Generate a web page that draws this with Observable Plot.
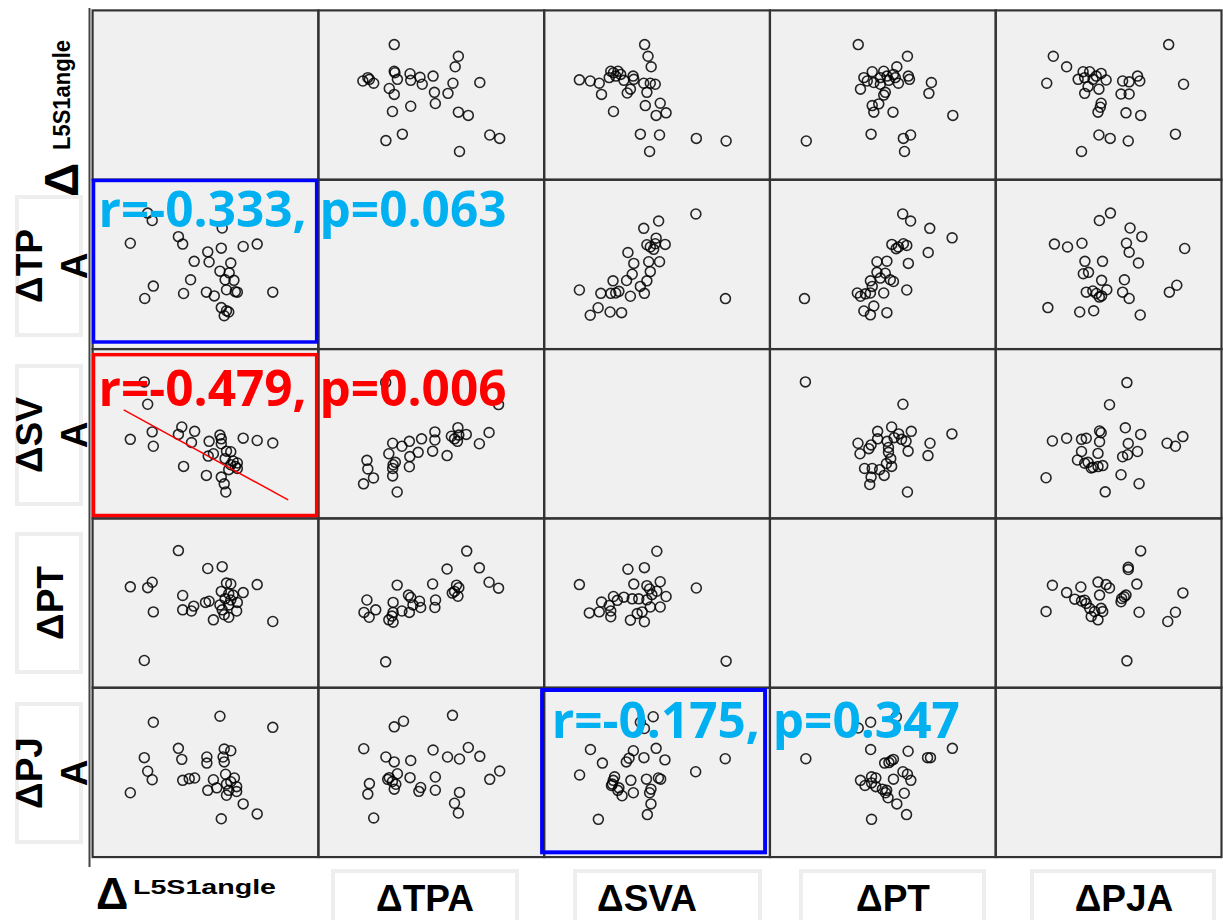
<!DOCTYPE html>
<html>
<head>
<meta charset="utf-8">
<script src="https://cdn.jsdelivr.net/npm/d3@7"></script>
<script src="https://cdn.jsdelivr.net/npm/@observablehq/plot@0.6"></script>
<style>
html, body { margin: 0; padding: 0; background: #fff; overflow: hidden; width: 1223px; height: 920px; }
#wrap { position: relative; width: 1223px; height: 920px; overflow: hidden; }
#wrap svg { position: absolute; left: 0; top: 0; }
</style>
</head>
<body>
<div id="wrap"></div>
<script>
// ---- variables of the scatter-plot matrix (relative change, scaled 0–100 within each panel) ----
const VARS = ["L5S1angle", "TPA", "SVA", "PT", "PJA"];
const ROW_LABELS = [["Δ", "L5S1angle"], ["ΔTP", "A"], ["ΔSV", "A"], ["ΔPT"], ["ΔPJ", "A"]];
const COL_LABELS = [["Δ", "L5S1angle"], ["ΔTPA"], ["ΔSVA"], ["ΔPT"], ["ΔPJA"]];

// each pair: [value of first variable, value of second variable]
const L5S1_TPA = [[79.8,33.6],[72.9,62.0],[66.7,60.6],[58.3,19.7],[60.3,21.9],[59.3,22.6],[57.0,24.5],[64.1,33.6],[63.2,33.9],[59.3,35.0],[62.6,40.6],[58.7,40.9],[60.5,45.0],[56.4,46.0],[61.2,50.8],[57.0,59.6],[57.4,71.5],[53.9,31.4],[50.4,33.6],[51.6,51.4],[51.0,57.4],[45.0,51.8],[43.4,40.9],[40.3,32.8],[39.9,62.0],[38.0,66.4],[26.9,37.2],[23.1,29.9],[26.4,75.9],[24.4,80.3],[16.7,62.5]];
const L5S1_SVA = [[79.8,44.5],[72.9,46.0],[66.7,47.4],[59.0,15.6],[58.3,20.4],[57.0,24.4],[64.1,29.5],[63.2,30.7],[64.1,32.7],[62.2,33.9],[60.3,28.8],[61.2,31.7],[58.7,35.3],[61.2,39.4],[59.3,39.7],[57.0,44.1],[57.0,47.0],[56.4,49.2],[53.5,38.2],[51.2,36.8],[50.4,25.4],[51.6,45.5],[43.8,44.8],[45.2,51.4],[38.0,49.6],[39.5,54.0],[40.3,30.7],[26.9,42.6],[26.4,51.1],[24.4,67.4],[22.9,80.6],[16.7,46.7]];
const L5S1_PT = [[79.8,39.1],[72.9,60.9],[66.7,56.2],[63.8,45.3],[60.3,41.6],[58.3,43.1],[57.4,46.0],[64.1,50.4],[61.2,51.8],[58.7,52.6],[62.2,54.7],[57.0,56.9],[61.2,61.3],[59.3,61.8],[60.3,48.9],[56.4,48.9],[60.3,55.5],[53.5,40.1],[51.6,51.1],[50.0,50.4],[57.4,71.5],[51.0,70.4],[44.8,48.2],[43.8,45.3],[39.9,46.0],[39.9,54.5],[38.0,81.0],[26.9,44.8],[26.4,62.3],[24.4,59.1],[22.9,16.1],[16.7,59.6]];
const L5S1_PJA = [[79.8,76.6],[72.9,25.5],[66.7,31.4],[57.0,22.6],[59.3,36.5],[63.8,38.7],[63.8,41.6],[60.3,39.4],[59.3,43.1],[62.8,46.7],[58.9,48.9],[61.2,44.5],[55.0,40.9],[53.5,45.7],[51.0,39.4],[58.3,56.2],[57.8,59.1],[61.2,62.8],[58.3,63.8],[50.6,55.5],[50.6,59.1],[56.4,83.2],[45.2,46.7],[42.8,46.3],[39.9,45.3],[39.5,57.7],[38.0,64.2],[26.4,45.7],[24.4,50.7],[22.9,58.7],[26.9,79.6],[16.7,38.0]];
const TPA_SVA = [[79.8,67.2],[75.6,50.7],[71.3,44.1],[65.5,49.6],[61.6,45.5],[60.3,47.0],[58.9,48.5],[62.2,49.2],[61.8,53.6],[57.0,37.1],[50.6,39.7],[51.6,46.3],[51.6,51.1],[45.7,47.0],[44.2,39.0],[40.5,36.5],[40.3,30.5],[40.3,45.5],[37.0,42.6],[34.9,15.6],[32.9,25.1],[32.9,29.5],[33.1,31.7],[34.1,33.1],[31.2,38.2],[32.9,44.4],[29.8,80.3],[24.4,23.9],[20.0,20.4],[21.9,29.2],[21.5,34.3]];
const TPA_PT = [[79.8,58.8],[75.6,62.3],[71.3,70.8],[65.7,80.7],[61.8,54.0],[59.3,55.9],[60.3,56.9],[62.2,59.1],[61.2,60.6],[57.0,70.1],[51.6,47.4],[51.9,51.8],[50.6,61.3],[45.3,47.4],[44.8,51.1],[40.3,44.5],[40.9,53.3],[39.9,54.7],[34.9,60.6],[29.8,15.3],[33.1,38.7],[31.2,40.1],[33.1,44.5],[37.0,45.3],[33.1,50.4],[25.4,46.0],[22.5,41.6],[20.2,44.5],[21.5,51.8],[41.9,48.9],[32.6,42.3]];
const TPA_PJA = [[59.4,83.7],[37.7,80.2],[33.6,76.9],[20.1,64.0],[29.9,59.1],[33.6,56.2],[40.9,57.0],[50.8,63.2],[57.2,59.1],[62.5,57.9],[66.4,64.7],[71.5,59.5],[80.3,50.8],[75.9,45.9],[22.6,43.4],[21.9,37.2],[30.7,45.9],[32.8,44.6],[33.6,40.1],[35.0,49.2],[40.6,46.9],[45.3,41.1],[44.5,38.8],[51.8,47.3],[51.8,39.5],[62.5,38.2],[60.3,31.8],[62.0,26.0],[24.5,23.1],[31.4,46.9],[34.3,43.0]];
const SVA_PT = [[49.9,80.6],[37.1,70.0],[44.4,70.9],[15.6,60.9],[67.4,58.9],[39.7,61.2],[45.5,60.3],[51.4,62.6],[46.7,58.3],[49.9,57.0],[54.0,53.9],[47.7,55.0],[30.7,53.9],[35.3,53.5],[39.0,52.5],[25.4,50.6],[28.8,48.6],[32.4,51.6],[41.9,52.5],[45.5,51.9],[51.4,47.7],[47.0,47.7],[20.0,44.2],[24.4,44.8],[29.5,45.3],[29.5,41.9],[38.2,39.9],[44.4,39.0],[43.4,44.8],[41.2,43.8],[80.6,15.7]];
const SVA_PJA = [[80.2,58.1],[67.1,50.4],[53.5,57.4],[49.6,64.2],[51.6,46.0],[50.6,46.7],[45.3,46.0],[45.7,25.1],[47.3,31.4],[46.7,38.0],[47.3,40.1],[44.2,58.7],[39.5,62.8],[39.5,38.0],[38.4,45.3],[36.4,56.2],[37.6,58.4],[34.5,36.2],[32.6,39.4],[29.8,42.3],[30.6,45.3],[31.2,47.4],[44.4,75.9],[42.6,79.6],[48.3,82.9],[24.0,22.3],[25.8,55.5],[20.5,63.5],[15.7,48.5],[30.2,43.1],[33.1,40.9]];
const PT_PJA = [[80.8,64.2],[71.1,58.7],[69.8,58.7],[60.5,25.1],[56.2,31.4],[59.5,37.7],[62.4,45.3],[60.9,48.9],[58.9,50.4],[54.7,46.0],[61.2,62.5],[56.0,82.9],[44.6,79.6],[39.1,76.2],[45.0,22.3],[52.3,35.0],[51.2,38.0],[49.8,40.1],[46.9,41.6],[45.0,43.8],[46.9,46.7],[42.1,42.3],[40.1,45.3],[50.8,55.5],[53.7,56.9],[54.7,57.7],[52.7,55.8],[44.6,63.5],[15.9,58.1],[51.7,39.4],[45.0,47.4]];

const PAIRS = [
  ["L5S1angle", "TPA", L5S1_TPA], ["L5S1angle", "SVA", L5S1_SVA], ["L5S1angle", "PT", L5S1_PT], ["L5S1angle", "PJA", L5S1_PJA],
  ["TPA", "SVA", TPA_SVA], ["TPA", "PT", TPA_PT], ["TPA", "PJA", TPA_PJA],
  ["SVA", "PT", SVA_PT], ["SVA", "PJA", SVA_PJA], ["PT", "PJA", PT_PJA]
];

// correlation notes
const NOTE_ROWS = ["TPA", "SVA", "PJA"];
const NOTE_COLS = ["L5S1angle", "L5S1angle", "SVA"];
const NOTE_TEXT = ["r=-0.333, p=0.063", "r=-0.479, p=0.006", "r=-0.175, p=0.347"];
// hand-drawn trend line in the ΔSVA × ΔL5S1angle panel (x = L5S1angle, y = SVA)
const TREND_X = [14.0, 86.4];
const TREND_Y = [63.9, 11.1];

// ---- build table ----
const cells = VARS.flatMap((r) => VARS.map((c) => ({row: r, col: c})));
const points = [];
for (const [a, b, pts] of PAIRS) {
  for (const [va, vb] of pts) {
    points.push({row: a, col: b, x: vb, y: va});
    points.push({row: b, col: a, x: va, y: vb});
  }
}
const notes = NOTE_TEXT.map((t, i) => ({row: NOTE_ROWS[i], col: NOTE_COLS[i], text: t}));
const trend = TREND_X.map((x, i) => ({row: "SVA", col: "L5S1angle", x, y: TREND_Y[i]}));

const textStyle = {fontFamily: "Open Sans", fontWeight: 700, fontSize: 50, textAnchor: "start", lineAnchor: "bottom", frameAnchor: "top-left"};

const chart = Plot.plot({
  width: 1235,
  height: 920,
  marginTop: 8,
  marginBottom: 53,
  marginLeft: 91,
  marginRight: 0,
  style: {background: "transparent", overflow: "visible"},
  fx: {domain: VARS, padding: 0, axis: null},
  fy: {domain: VARS, padding: 0, axis: null},
  x: {domain: [0, 100], axis: null},
  y: {domain: [0, 100], axis: null},
  marks: [
    Plot.rect(cells, {fx: "col", fy: "row", x1: 0, x2: 100, y1: 0, y2: 100, fill: "#f0f0f0"}),
    Plot.dot(points, {fx: "col", fy: "row", x: "x", y: "y", r: 5, stroke: "#000", strokeWidth: 1.6, fill: "none", strokeOpacity: 0.85}),
    Plot.frame({stroke: "#333", strokeWidth: 2.2}),
    Plot.line(trend, {fx: "col", fy: "row", x: "x", y: "y", stroke: "#ff0000", strokeWidth: 1.5}),
    Plot.rect([notes[0]], {fx: "col", fy: "row", x1: 0, x2: 100, y1: 0, y2: 100, fill: "none", stroke: "#0000ff", strokeWidth: 3.5, insetLeft: 1.45, insetRight: 1.25, insetTop: 1.25, insetBottom: 6.65}),
    Plot.rect([notes[1]], {fx: "col", fy: "row", x1: 0, x2: 100, y1: 0, y2: 100, fill: "none", stroke: "#ff0000", strokeWidth: 3.5, insetLeft: 1.45, insetRight: 1.25, insetTop: 6.15, insetBottom: 2.45}),
    Plot.rect([notes[2]], {fx: "col", fy: "row", x1: 0, x2: 100, y1: 0, y2: 100, fill: "none", stroke: "#0000ff", strokeWidth: 4, insetLeft: -1.6, insetRight: 4.4, insetTop: 2.8, insetBottom: 4.3}),
    Plot.text([notes[0]], {...textStyle, fx: "col", fy: "row", text: "text", fill: "#00b0f0", dx: 6, dy: 47.9}),
    Plot.text([notes[1]], {...textStyle, fx: "col", fy: "row", text: "text", fill: "#ff0000", dx: 6, dy: 57.7}),
    Plot.text([notes[2]], {...textStyle, fx: "col", fy: "row", text: "text", fill: "#00b0f0", dx: 7.7, dy: 50.5})
  ]
});

const wrap = document.getElementById("wrap");
wrap.appendChild(chart);

// ---- variable labels (left and bottom) ----
const svg = d3.select(wrap).append("svg")
  .attr("width", 1223).attr("height", 920)
  .style("pointer-events", "none")
  .attr("font-family", "'Liberation Sans', Arial, sans-serif")
  .attr("font-weight", "bold");

// outer left edge of matrix (thicker in reference)
svg.append("line").attr("x1", 89.5).attr("x2", 89.5).attr("y1", 8).attr("y2", 867)
  .attr("stroke", "#444").attr("stroke-width", 2);

const rowCenters = [180, 266, 435, 603, 773];
// row 1: Δ + L5S1angle
svg.append("text").attr("transform", `translate(78,${rowCenters[0]}) rotate(-90)`)
  .attr("text-anchor", "middle").attr("font-size", 48).text(ROW_LABELS[0][0]);
svg.append("text").attr("transform", "translate(70,150) rotate(-90)")
  .attr("text-anchor", "start").attr("font-size", 23)
  .attr("textLength", 110).attr("lengthAdjust", "spacingAndGlyphs").text(ROW_LABELS[0][1]);

for (let i = 1; i < 5; i++) {
  const c = rowCenters[i];
  svg.append("rect").attr("x", 17).attr("y", c - 69).attr("width", 64).attr("height", 138)
    .attr("fill", "#fff").attr("stroke", "#eeeeee").attr("stroke-width", 4);
  const lines = ROW_LABELS[i];
  const bases = lines.length === 2 ? [42, 87] : [63];
  lines.forEach((s, k) => {
    svg.append("text").attr("transform", `translate(${bases[k]},${c}) rotate(-90)`)
      .attr("text-anchor", "middle").attr("font-size", 37).text(s);
  });
}

// bottom labels
svg.append("text").attr("x", 96).attr("y", 909).attr("font-size", 45).text(COL_LABELS[0][0]);
svg.append("text").attr("x", 133).attr("y", 894).attr("font-size", 20)
  .attr("textLength", 143).attr("lengthAdjust", "spacingAndGlyphs").text(COL_LABELS[0][1]);
const boxes = [null, [333, 517], [575, 760], [801, 984], [1032, 1214]];
const textX = [null, 425, 647, 893, 1124];
for (let j = 1; j < 5; j++) {
  const [x0, x1] = boxes[j];
  svg.append("rect").attr("x", x0).attr("y", 871).attr("width", x1 - x0).attr("height", 60)
    .attr("fill", "#fff").attr("stroke", "#eeeeee").attr("stroke-width", 4);
  svg.append("text").attr("x", textX[j]).attr("y", 911).attr("text-anchor", "middle")
    .attr("font-size", 37).text(COL_LABELS[j][0]);
}
</script>
</body>
</html>
